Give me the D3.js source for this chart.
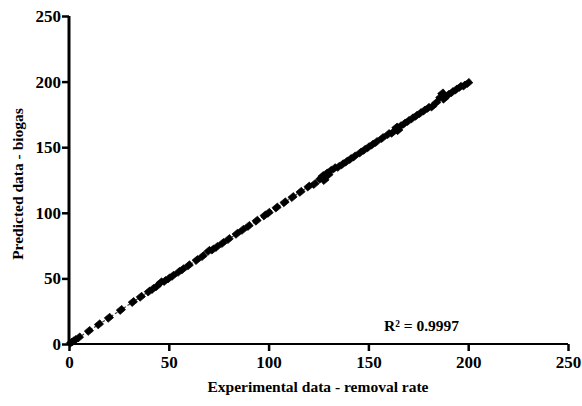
<!DOCTYPE html>
<html><head><meta charset="utf-8">
<script src="https://cdn.jsdelivr.net/npm/d3@7"></script>
<style>body{margin:0;background:#fff}svg{display:block}text{font-family:"Liberation Serif","Times New Roman",serif;fill:#000}</style>
</head><body>
<svg id="c" width="582" height="406"></svg>
<script>
const experimental = [1,2,3,5,10,15,20,26,32,36,40,42,44,46,48,50,52,55,57,60,64,67,70,72,74,77,80,84,87,90,94,98,100,104,108,112,116,120,123,126,127,128,129,130,131,133,135,137,139,141,143,146,148,150,152,154,157,160,162,164,165,166,168,170,172,174,176,178,180,182,184,186,187,188,190,192,194,196,198,200];
const predicted    = [1,2,3,5,10,15,20,26,32,36,40,42,44,47,48,50,52,55,57,60,64,67,71,72,74,77,80,84,87,90,94,98,100,104,108,112,116,120,122,126,128,125,130,129,132,134,135,137,139,141,143,146,148,150,152,154,157,160,161,165,163,166,168,170,172,174,176,178,180,181,184,188,191,187,190,192,194,196,197,199];
const xTicks = [0,50,100,150,200,250];
const yTicks = [0,50,100,150,200,250];
const fitLine = [0,200];
const r2Label = "R² = 0.9997";

const svg = d3.select("#c");
const x = d3.scaleLinear().domain([0,250]).range([69,568]);
const y = d3.scaleLinear().domain([0,250]).range([344,16]);

// fit line
svg.append("line").attr("x1",x(fitLine[0])).attr("y1",y(fitLine[0])).attr("x2",x(fitLine[1])).attr("y2",y(fitLine[1]))
  .attr("stroke","#444").attr("stroke-width",1.2).attr("stroke-dasharray","3,2");

// points
const sym = d3.symbol().type(d3.symbolSquare).size(30);
svg.append("g").selectAll("path").data(experimental.map((d,i)=>[d,predicted[i]])).join("path")
  .attr("d",sym).attr("transform",d=>`translate(${x(d[0])},${y(d[1])}) rotate(-40) scale(1.3,1.05)`)
  .attr("fill","#000").attr("stroke","#000").attr("stroke-width",0.6);

// axes
const xa = svg.append("g").attr("transform","translate(0,344)")
  .call(d3.axisBottom(x).tickValues(xTicks).tickSize(7).tickPadding(5));
const ya = svg.append("g").attr("transform","translate(69,0)")
  .call(d3.axisLeft(y).tickValues(yTicks).tickSize(7).tickPadding(1));
[xa,ya].forEach(a=>{
  a.selectAll(".tick line").attr("stroke","#000").attr("stroke-width",2.5);
  a.selectAll(".tick text").attr("font-size",17).attr("font-weight","bold").attr("font-family","Liberation Serif").attr("fill","#000");
});
xa.select(".domain").attr("d","M69,0H568").attr("stroke","#000").attr("stroke-width",2);
ya.select(".domain").attr("d","M0,16V344").attr("stroke","#000").attr("stroke-width",3);

const tstyle = s => s.attr("font-size",15.5).attr("font-weight","bold");
svg.append("text").attr("x",318).attr("y",392).attr("text-anchor","middle").call(tstyle)
  .text("Experimental data - removal rate");
svg.append("text").attr("transform","translate(23,184) rotate(-90)").attr("text-anchor","middle").call(tstyle)
  .text("Predicted data - biogas");
svg.append("text").attr("x",384).attr("y",331).call(tstyle)
  .text(r2Label);
</script>
</body></html>
